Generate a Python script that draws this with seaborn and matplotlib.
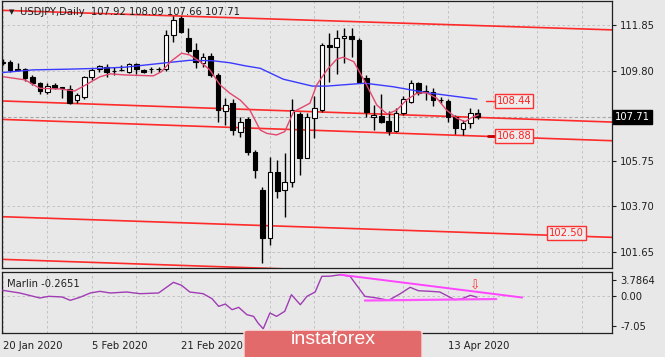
import numpy as np
import matplotlib
matplotlib.use('Agg')
import matplotlib.pyplot as plt
import seaborn as sns
from matplotlib.patches import FancyBboxPatch

sns.set_style('white')
plt.rcParams['font.family'] = ['DejaVu Sans']

BG = '#e8e8e8'

# daily candles, bar 0 = 20 Jan 2020
opens = [110.15, 110.22, 109.87, 109.88, 109.54, 109.25, 108.87, 109.17, 109.06, 108.99,
         108.49, 108.64, 109.52, 109.88, 110.00, 109.82, 109.86, 109.77, 110.12, 109.85,
         109.89, 109.89, 109.88, 111.42, 112.17, 111.27, 110.75, 110.17, 110.48, 109.62,
         108.01, 108.35, 107.07, 107.62, 106.17, 104.44, 102.26, 105.27, 104.44, 104.81,
         107.86, 105.87, 107.67, 108.04, 110.97, 110.87, 111.27, 111.38, 111.20, 109.47,
         107.72, 107.77, 107.56, 107.11, 107.90, 108.42, 109.25, 108.90, 108.87, 108.50,
         108.46, 107.74, 107.17, 107.47, 107.92]
highs = [110.33, 110.30, 110.15, 109.92, 109.62, 109.32, 109.25, 109.27, 109.08, 109.17,
         108.80, 109.58, 109.92, 110.07, 110.10, 110.00, 110.07, 110.18, 110.18, 109.88,
         110.00, 110.00, 111.65, 112.28, 112.28, 111.72, 111.08, 110.62, 110.60, 109.70,
         108.57, 108.53, 107.74, 107.74, 106.24, 104.59, 105.94, 105.79, 106.09, 108.53,
         107.97, 107.90, 108.67, 111.05, 111.53, 111.65, 111.72, 111.72, 111.27, 109.62,
         108.27, 108.76, 108.01, 108.12, 108.67, 109.40, 109.32, 109.17, 109.02, 108.62,
         108.53, 107.82, 107.59, 108.12, 108.09]
lows = [110.07, 109.77, 109.82, 109.35, 109.17, 108.76, 108.76, 108.99, 108.57, 108.30,
        108.35, 108.53, 109.40, 109.77, 109.54, 109.62, 109.80, 109.72, 109.67, 109.72,
        109.72, 109.75, 109.81, 111.12, 111.50, 110.60, 109.92, 109.99, 109.54, 107.52,
        107.37, 106.92, 106.84, 106.02, 104.97, 101.14, 101.96, 104.07, 103.24, 104.59,
        105.12, 105.87, 106.77, 107.97, 109.32, 109.67, 110.15, 110.44, 109.25, 107.74,
        107.14, 107.44, 106.92, 107.07, 107.82, 108.35, 108.72, 108.49, 108.22, 108.37,
        107.52, 106.96, 106.92, 107.22, 107.66]
closes = [110.22, 109.85, 109.85, 109.47, 109.25, 108.90, 109.14, 109.05, 109.04, 108.37,
          108.72, 109.52, 109.85, 110.03, 109.77, 109.80, 109.84, 110.12, 109.88, 109.76,
          109.87, 109.87, 111.42, 112.10, 111.57, 110.71, 110.22, 110.44, 109.62, 108.04,
          108.27, 107.14, 107.52, 106.17, 105.34, 102.26, 105.27, 104.41, 104.81, 108.04,
          105.87, 107.72, 108.12, 110.97, 110.87, 111.27, 111.38, 111.24, 109.32, 107.97,
          107.82, 107.52, 107.11, 107.90, 108.53, 109.25, 108.82, 108.85, 108.49, 108.48,
          107.74, 107.22, 107.44, 107.92, 107.71]

# moving averages
blue_idx = [-0.4, 4.1, 8.7, 13.1, 16.5, 22.6, 25.2, 28.3, 30.6, 32.7, 34.7, 37.8, 41.7,
            43.7, 48.8, 52.6, 57.2, 63.9]
blue_val = [109.72, 109.85, 109.88, 109.92, 109.97, 110.19, 110.28, 110.26, 110.17, 110.03,
            109.92, 109.43, 109.12, 109.12, 109.25, 109.09, 108.82, 108.53]
pink_idx = [0.1, 3.0, 5.0, 7.7, 9.7, 10.9, 13.1, 14.5, 16.5, 20.3, 21.4, 22.6, 24.1, 25.2,
            26.6, 27.9, 29.3, 30.6, 32.0, 33.3, 34.7, 35.6, 36.9, 38.0, 39.2, 40.1, 41.4,
            42.3, 43.7, 45.0, 45.9, 47.3, 48.8, 50.4, 51.8, 53.1, 54.4, 55.8, 57.1, 58.5,
            59.8, 61.2, 62.3, 63.4, 64.1]
pink_val = [109.54, 109.40, 109.02, 108.99, 108.90, 109.12, 109.54, 109.67, 109.62, 109.58,
            109.77, 110.22, 110.60, 110.52, 110.22, 109.85, 109.17, 108.80, 108.49, 108.04,
            107.14, 106.99, 106.92, 107.07, 107.97, 108.12, 108.35, 109.17, 109.85, 110.33,
            110.42, 110.22, 109.32, 108.27, 107.86, 108.04, 108.49, 108.80, 108.82, 108.57,
            108.04, 107.67, 107.52, 107.74, 107.82]

# channel lines, value at left and right edge of the chart
edge_idx = [-0.1, 82.1]
chan_1 = [112.53, 111.65]
chan_2 = [108.45, 107.50]
chan_3 = [107.62, 106.66]
chan_4 = [103.24, 102.31]
chan_5 = [101.32, 100.39]

last_price = 107.71
level_labels = [(108.44, 66.3), (106.88, 66.3), (102.50, 73.4)]

# Marlin oscillator
marlin_idx = [0, 2.3, 5.0, 6.2, 8.0, 9.1, 10.4, 11.8, 13.1, 14.5, 16.7, 18.5, 21.0, 23.0,
              24.1, 25.2, 27.0, 28.2, 29.1, 30.0, 30.9, 31.8, 32.9, 33.8, 34.4, 35.1, 36.0,
              36.9, 38.0, 38.9, 40.1, 41.0, 42.1, 43.0, 44.1, 45.5, 46.8, 48.8, 50.4, 52.0,
              53.5, 54.9, 56.0, 57.6, 58.9, 60.9, 61.9, 63.0, 63.9]
marlin_val = [1.32, 0.70, -0.46, -0.07, -0.23, -1.00, -0.30, 0.70, 1.08, 0.70, 0.93, 0.54,
              0.70, 3.17, 2.48, 0.93, 0.54, -0.62, -2.40, -1.86, -3.17, -2.63, -4.33, -4.72,
              -6.26, -7.6, -3.94, -4.72, -3.55, 0.31, -2.02, -0.07, 0.93, 4.57, 4.6, 4.94,
              4.57, -0.07, -0.46, -1.00, 0.46, 2.02, 1.23, 1.09, 0.93, -0.86, -0.63, 0.16,
              -0.27]
trend_a_idx, trend_a_val = [45.5, 70.0], [4.94, -0.35]
trend_b_idx, trend_b_val = [48.8, 66.5], [-1.05, -0.70]

# date labels under the watermark are not visible in the original, so left blank
date_idx = [0, 12, 24, 36, 48, 60]
date_labels = ['20 Jan 2020', '5 Feb 2020', '21 Feb 2020', '', '', '13 Apr 2020']
price_ticks = [101.65, 103.70, 105.75, 109.80, 111.85]
marlin_ticks = [-7.05, 0.0, 3.7864]
marlin_tick_labels = ['-7.05', '0.00', '3.7864']

FS = 7.2

fig = plt.figure(figsize=(6.65, 3.57), dpi=100, facecolor=BG)
ax = fig.add_axes([2 / 665, 89 / 357, 610 / 665, 267 / 357])
axm = fig.add_axes([2 / 665, 24 / 357, 610 / 665, 61 / 357])

for a in (ax, axm):
    a.set_facecolor(BG)
    a.set_xlim(-0.1, 82.1)
    for s in a.spines.values():
        s.set_color('#202020')
        s.set_linewidth(0.9)
    a.yaxis.tick_right()
    a.tick_params(axis='y', direction='out', length=3, width=0.8, color='#202020',
                  labelsize=FS, pad=3, labelcolor='#202020')
    a.set_xticks(range(0, 83, 6), minor=True)
    a.grid(True, which='both', axis='x', color='#bcbcbc', linestyle=(0, (3, 3)), linewidth=0.6)
    a.set_axisbelow(True)

# main panel
ax.set_ylim(100.93, 112.95)
ax.set_yticks(price_ticks)
ax.set_yticklabels([f'{t:.2f}' for t in price_ticks])
ax.grid(True, axis='y', color='#bcbcbc', linestyle=(0, (3, 3)), linewidth=0.6)
ax.set_xticks([])
ax.tick_params(axis='x', which='both', length=0, labelbottom=False)

ax.axhline(last_price, color='#a8a8a8', linestyle=(0, (3, 2)), linewidth=0.8, zorder=1)

for ch in (chan_1, chan_2, chan_3, chan_4, chan_5):
    ax.plot(edge_idx, ch, color='#ff2a2a', linewidth=1.2, zorder=2)

o, h, l, c = map(np.array, (opens, highs, lows, closes))
x = np.arange(len(o))
up = c >= o
ax.vlines(x, l, h, color='black', linewidth=1, zorder=3)
ax.bar(x, np.maximum(np.abs(c - o), 0.02), bottom=np.minimum(o, c), width=0.62,
       color=np.where(up, 'white', 'black'), edgecolor='black', linewidth=0.8, zorder=4)

sns.lineplot(x=blue_idx, y=blue_val, ax=ax, color='#3a3aff', linewidth=1,
             sort=False, estimator=None, zorder=5)
sns.lineplot(x=pink_idx, y=pink_val, ax=ax, color='#e2476e', linewidth=1,
             sort=False, estimator=None, zorder=5)

# level marks with boxes
ax.plot([65.1, 66.3], [108.44, 108.44], color='#ff2a2a', linewidth=1, zorder=5)
ax.plot([65.4, 66.3], [106.88, 106.88], color='#c00000', linewidth=2, zorder=5)
for val, xi in level_labels:
    ax.text(xi + 0.25, val, f'{val:.2f}', color='#ff2020', fontsize=FS, ha='left', va='center',
            zorder=6, bbox=dict(boxstyle='square,pad=0.18', fc='#ededed', ec='#ff3030', lw=1))

ax.text(1.005, last_price, f'{last_price:.2f}', transform=ax.get_yaxis_transform(),
        color='white', fontsize=FS, ha='left', va='center', clip_on=False,
        bbox=dict(boxstyle='square,pad=0.2', fc='black', ec='black'))

ax.text(0.012, 0.958, '\u25bc', transform=ax.transAxes, fontsize=5, ha='left', va='center',
        color='#202020')
ax.text(0.029, 0.958, 'USDJPY,Daily  107.92 108.09 107.66 107.71', transform=ax.transAxes,
        fontsize=FS, ha='left', va='center', color='#202020', zorder=6)

# Marlin panel
axm.set_ylim(-8.58, 5.57)
axm.set_yticks(marlin_ticks)
axm.set_yticklabels(marlin_tick_labels)
axm.axhline(0, color='#bcbcbc', linestyle=(0, (3, 3)), linewidth=0.6, zorder=1)
axm.set_xticks(date_idx)
axm.set_xticklabels(date_labels)
axm.tick_params(axis='x', which='major', direction='out', length=3, width=0.8,
                color='#202020', labelsize=FS, pad=3, labelcolor='#202020')
axm.tick_params(axis='x', which='minor', length=0)
for t in axm.get_xticklabels():
    t.set_ha('left')

sns.lineplot(x=marlin_idx, y=marlin_val, ax=axm, color='#a03cb4', linewidth=1,
             sort=False, estimator=None, zorder=4)
axm.plot(trend_a_idx, trend_a_val, color='#ff44ff', linewidth=1.4, zorder=5)
axm.plot(trend_b_idx, trend_b_val, color='#ff55ff', linewidth=1.6, zorder=5)
axm.text(63.7, 2.3, '\u21e9', color='#ff3030', fontsize=9, ha='center', va='center', zorder=6)
axm.text(0.008, 0.80, 'Marlin -0.2651', transform=axm.transAxes, fontsize=FS,
         ha='left', va='center', color='#202020')

# watermark
logo = FancyBboxPatch((244 / 665, -0.02), 178 / 665, 34 / 357,
                      boxstyle='round,pad=0,rounding_size=0.006', transform=fig.transFigure,
                      fc='#e36a6a', ec='#f6dede', lw=1, zorder=20)
fig.add_artist(logo)
fig.text(333 / 665, 17 / 357, 'instaforex', color='white', fontsize=14,
         family='Liberation Sans', ha='center', va='center', zorder=21)

fig.savefig('out.png', dpi=100, facecolor=BG)
